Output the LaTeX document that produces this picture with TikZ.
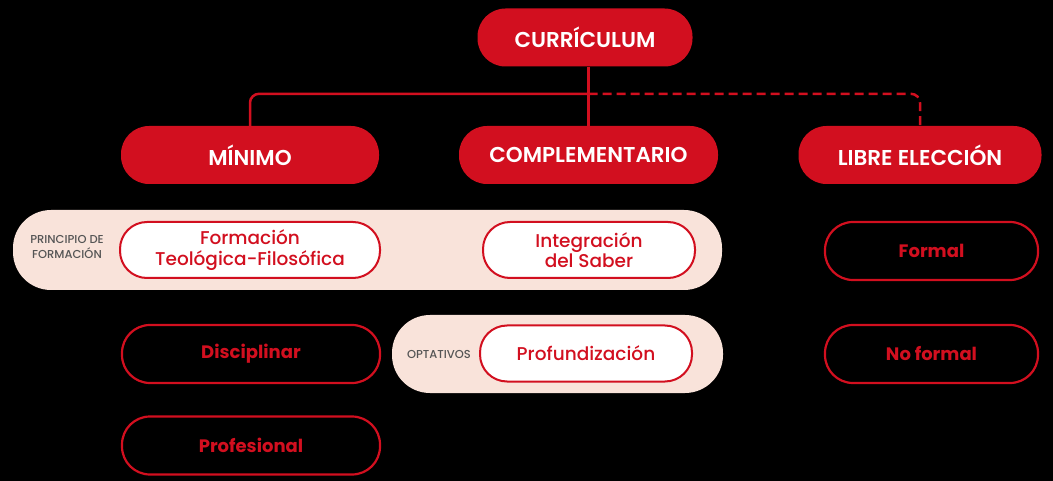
\documentclass[tikz,border=0pt]{standalone}
\usepackage{fontspec}
\setmainfont{Poppins}
\newfontfamily\popmed{Poppins}[UprightFont=* Medium]
\newfontfamily\popsemi{Poppins}[UprightFont=* SemiBold]
\usepackage{xcolor}
\definecolor{brand}{HTML}{D20F1F}
\definecolor{bandfill}{HTML}{F9E3DA}
\definecolor{labelgray}{HTML}{555555}
\usepackage{tikz}
\usetikzlibrary{positioning, calc}

\begin{document}
\begin{tikzpicture}[x=1pt, y=-1pt,
    headbox/.style={fill=brand, text=white, rounded corners=28pt,
      minimum height=58pt, font=\popsemi\fontsize{21.5}{25}\selectfont},
    whitebox/.style={draw=brand, line width=2pt, fill=white, text=brand,
      rounded corners=27pt, minimum height=56pt, align=center,
      font=\popmed\fontsize{18.5}{20.5}\selectfont},
    outlinebox/.style={draw=brand, line width=2.2pt, text=brand,
      rounded corners=28pt, minimum height=58pt,
      font=\bfseries\fontsize{18}{21}\selectfont},
    bandbox/.style={fill=bandfill, rounded corners=38pt},
    tag/.style={text=labelgray, align=center, font=\popmed\fontsize{11.5}{14.5}\selectfont},
    link/.style={draw=brand, line width=2.5pt}]

  % background
  \fill[black] (0,0) rectangle (1053,481);
  \useasboundingbox (0,0) rectangle (1053,481);

  % bands
  \node[bandbox, minimum width=709pt, minimum height=80pt] (band1) at (367.5,250) {};
  \node[bandbox, minimum width=331pt, minimum height=78pt] (band2) at (557.5,354) {};

  % top level
  \node[headbox, minimum width=215pt] (curri) at (585,37.5) {CURRÍCULUM};
  \node[headbox, minimum width=258pt] (minimo) at (250,155) {MÍNIMO};
  \node[headbox, minimum width=259pt] (compl) at (588.5,155) {COMPLEMENTARIO};
  \node[headbox, minimum width=243pt] (libre) at (920,155) {LIBRE ELECCIÓN};

  % second level
  \node[whitebox, minimum width=260pt] (teofil) at (250,250)
    {Formación\\Teológica-Filosófica};
  \node[whitebox, minimum width=212pt] (saber) at (589,250)
    {Integración\\del Saber};
  \node[whitebox, minimum width=212pt] (profund) at (586,353.5) {Profundización};

  \node[outlinebox, minimum width=258pt] (discip) at (251,354) {Disciplinar};
  \node[outlinebox, minimum width=258pt] (profes) at (251,445.5) {Profesional};
  \node[outlinebox, minimum width=213pt] (formal) at (931.5,251) {Formal};
  \node[outlinebox, minimum width=213pt] (noformal) at (931.5,354) {No formal};

  % band labels
  \node[tag] (tagprin) at (67,247) {PRINCIPIO DE\\FORMACIÓN};
  \node[tag] (tagopt) at (439,354) {OPTATIVOS};

  % connectors
  \coordinate (hub) at ($(compl.north)+(0,-32)$);
  \draw[link] (curri.south -| compl.north) -- (compl.north);
  \draw[link, rounded corners=9pt] (hub) -| (minimo.north);
  \draw[link, dashed, dash pattern=on 9pt off 5pt, rounded corners=9pt]
    (hub) -| (libre.north);

\end{tikzpicture}
\end{document}
